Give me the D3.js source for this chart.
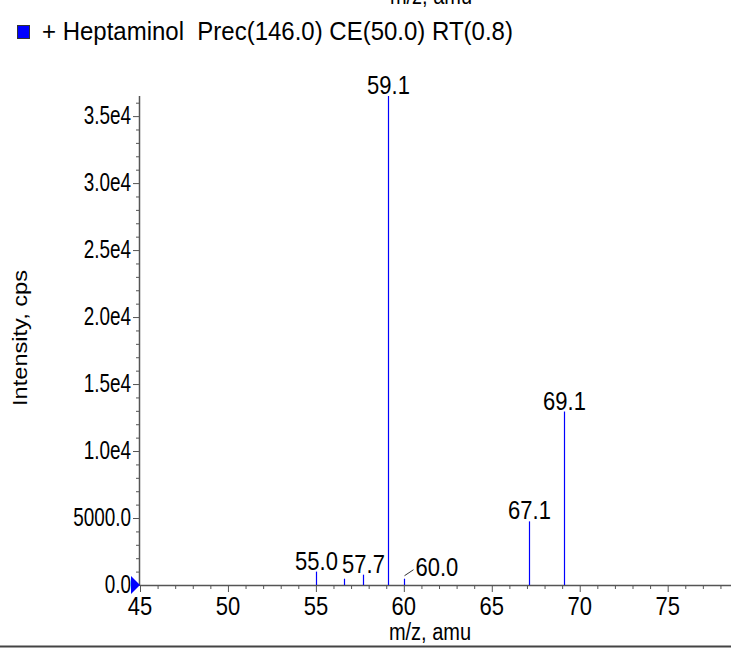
<!DOCTYPE html>
<html>
<head>
<meta charset="utf-8">
<script src="https://cdn.jsdelivr.net/npm/d3@7"></script>
<style>
  html, body { margin: 0; padding: 0; background: #fff; }
  svg { display: block; font-family: "Liberation Sans", Arial, Helvetica, sans-serif; }
  text { white-space: pre; }
</style>
</head>
<body>
<svg id="chart" width="731" height="651"></svg>
<script>
// ---- data ----
const mzValues    = [55.0, 56.6, 57.7, 59.1, 60.0, 67.1, 69.1];
const intensities = [1000, 470, 770, 36500, 470, 4750, 12950];
const peakLabels  = ["55.0", "", "57.7", "59.1", "60.0", "67.1", "69.1"];
const xTickValues = [45, 50, 55, 60, 65, 70, 75];
const yTickValues = [0, 5000, 10000, 15000, 20000, 25000, 30000, 35000];
const yTickLabels = ["0.0", "5000.0", "1.0e4", "1.5e4", "2.0e4", "2.5e4", "3.0e4", "3.5e4"];
const legendText  = "+ Heptaminol  Prec(146.0) CE(50.0) RT(0.8)";
const xTitle = "m/z, amu";
const yTitle = "Intensity, cps";

// ---- layout ----
const svg = d3.select("#chart");
const W = 731, H = 651;
const x0 = 140, y0 = 585;
const x = d3.scaleLinear().domain([45, 78.6]).range([x0, 731]);
const y = d3.scaleLinear().domain([0, 36500]).range([y0, 96]);
const axisColor = "#555";
const peakColor = "#0000ff";
const VS = 1.15; // vertical stretch of glyphs

function stretchedText(g, tx, ty, str, size, anchor, sy, sx) {
  return g.append("text")
    .attr("transform", `translate(${tx},${ty}) scale(${sx || 1},${sy || VS})`)
    .attr("text-anchor", anchor || "start")
    .attr("font-size", size).attr("fill", "#000").text(str);
}

svg.append("rect").attr("width", W).attr("height", H).attr("fill", "#fff");

// clipped top title
stretchedText(svg, 431, 4, xTitle, 20, "middle");

// legend
svg.append("rect").attr("x", 17.5).attr("y", 25.5).attr("width", 12).attr("height", 13)
  .attr("fill", "#0000ff").attr("stroke", "#333").attr("stroke-width", 1);
stretchedText(svg, 42, 40, legendText, 24, "start", 1.1);

// x axis ticks
const xAxis = d3.axisBottom(x).tickValues(d3.range(45, 79, 1)).tickSize(4).tickFormat("");
const gx = svg.append("g").attr("transform", `translate(0,${y0})`).call(xAxis);
gx.select(".domain").remove();
gx.selectAll(".tick line").attr("stroke", axisColor)
  .attr("y2", d => d % 5 === 0 ? 7 : 4);
svg.append("line").attr("x1", x0).attr("x2", W).attr("y1", y0 + 0.5).attr("y2", y0 + 0.5)
  .attr("stroke", axisColor).attr("stroke-width", 1.5);
const gxl = svg.append("g");
xTickValues.forEach(v => stretchedText(gxl, x(v), 615, String(v), 22, "middle"));

// y axis ticks
const yAxis = d3.axisLeft(y).tickValues(d3.range(0, 36001, 1000)).tickSize(4).tickFormat("");
const gy = svg.append("g").attr("transform", `translate(${x0},0)`).call(yAxis);
gy.select(".domain").remove();
gy.selectAll(".tick line").attr("stroke", axisColor)
  .attr("x2", d => d % 5000 === 0 ? -7 : -4);
svg.append("line").attr("x1", x0 - 0.5).attr("x2", x0 - 0.5).attr("y1", y(36500)).attr("y2", y0 + 1)
  .attr("stroke", axisColor).attr("stroke-width", 1.5);
const gyl = svg.append("g");
yTickValues.forEach((v, i) => stretchedText(gyl, x0 - 9, y(v) + 8, yTickLabels[i], 22, "end", VS, 0.86));

// zero marker triangle
svg.append("path")
  .attr("d", `M${x0 - 9},${y0 - 9} L${x0},${y0} L${x0 - 9},${y0 + 9} Z`)
  .attr("fill", "#0000ff");

// titles
stretchedText(svg, 430, 640, xTitle, 20, "middle");
svg.append("text").attr("transform", `translate(27,338) rotate(-90) scale(1.18,1)`)
  .attr("text-anchor", "middle").attr("font-size", 20).attr("fill", "#000").text(yTitle);

// peaks
const peaks = mzValues.map((m, i) => ({ mz: m, v: intensities[i], label: peakLabels[i] }));
svg.append("g").selectAll("line").data(peaks).join("line")
  .attr("x1", d => Math.round(x(d.mz)) + 0.5).attr("x2", d => Math.round(x(d.mz)) + 0.5)
  .attr("y1", y0).attr("y2", d => y(d.v))
  .attr("stroke", peakColor).attr("stroke-width", 1.2);

// peak labels
const gpl = svg.append("g");
peaks.filter(d => d.label).forEach(d => {
  const px = Math.round(x(d.mz)) + 0.5;
  const py = y(d.v);
  if (d.label === "60.0") {
    gpl.append("line").attr("x1", px).attr("y1", py - 3).attr("x2", px + 9).attr("y2", py - 9)
      .attr("stroke", "#000").attr("stroke-width", 0.8);
    stretchedText(gpl, px + 11, py - 3, d.label, 22, "start");
  } else {
    stretchedText(gpl, px, py - 2, d.label, 22, "middle");
  }
});

// bottom border
svg.append("line").attr("x1", 0).attr("x2", W).attr("y1", 646.5).attr("y2", 646.5)
  .attr("stroke", "#444").attr("stroke-width", 2);
</script>
</body>
</html>
